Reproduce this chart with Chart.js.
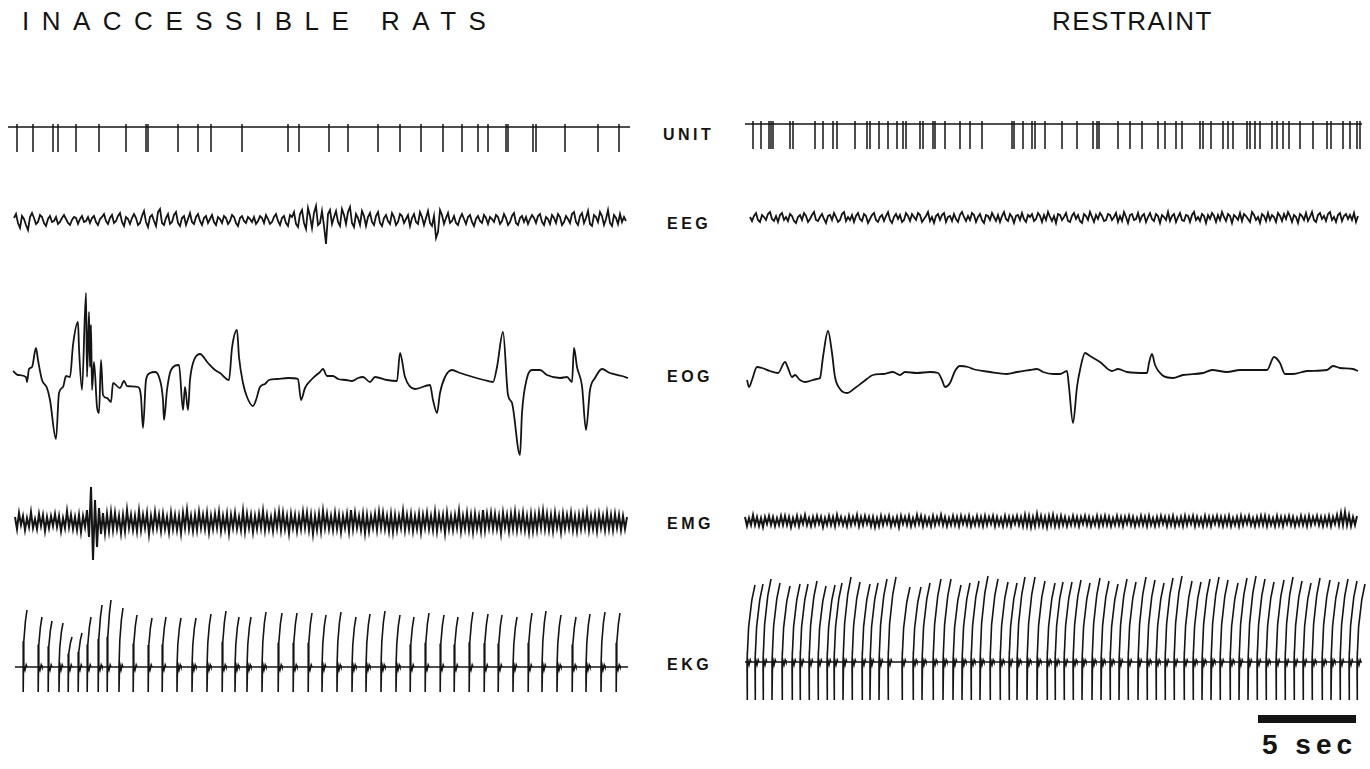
<!DOCTYPE html>
<html>
<head>
<meta charset="utf-8">
<script src="https://cdn.jsdelivr.net/npm/chart.js@4.4.1/dist/chart.umd.min.js"></script>
<style>
  body { margin: 0; background: #fff; }
  #page { position: relative; width: 1370px; height: 769px; overflow: hidden;
          font-family: "Liberation Sans", Arial, sans-serif; color: #141414; }
  canvas { position: absolute; }
  .title { position: absolute; top: 6px; font-size: 26px; white-space: nowrap; }
  .lab { position: absolute; left: 667px; font-weight: bold; font-size: 16px; letter-spacing: 3.5px;
         transform: translateY(-50%); }
  #bar { position: absolute; left: 1258px; top: 715px; width: 98px; height: 8px; background: #141414; }
  #sec { position: absolute; left: 1262px; top: 729px; font-size: 28px; font-weight: bold; letter-spacing: 5px; }
</style>
</head>
<body>
<div id="page">
  <div class="title" style="left:22px;letter-spacing:12.5px">INACCESSIBLE RATS</div>
  <div class="title" style="left:1052px;letter-spacing:1.5px">RESTRAINT</div>
  <div class="lab" style="top:135px;left:663px">UNIT</div>
  <div class="lab" style="top:224px">EEG</div>
  <div class="lab" style="top:377px">EOG</div>
  <div class="lab" style="top:524px">EMG</div>
  <div class="lab" style="top:665px">EKG</div>
  <div id="bar"></div>
  <div id="sec">5 sec</div>
</div>
<script>
/* ------------------------------
   Data (time in s, amplitudes in arbitrary gain units)
   ------------------------------ */
const X_MAX = 31.35;   // seconds shown per panel

// UNIT: spike times
const unitLeftSpikes = [0.45, 1.25, 2.25, 2.5, 3.4, 4.55, 5.9, 6.9, 7.0, 8.5, 9.5, 10.15, 11.7, 14.0, 14.55,
  16.05, 17.0, 18.5, 19.6, 20.65, 21.75, 22.7, 23.5, 24.0, 24.9, 25.0, 26.25, 26.4, 27.85, 29.5, 30.55];
const unitRightSpikes = [0.5, 0.9, 1.3, 1.4, 1.5, 2.35, 2.5, 3.6, 4.0, 4.5, 4.7, 5.6, 6.2, 6.35, 6.8, 7.25, 7.7,
  8.0, 8.15, 8.85, 9.0, 9.5, 9.6, 10.1, 10.85, 11.35, 11.95, 13.45, 13.55, 14.0, 14.45, 14.6, 15.1, 15.95,
  16.7, 17.5, 17.7, 17.8, 18.75, 19.35, 19.95, 20.75, 21.1, 21.65, 21.95, 22.85, 23.0, 23.4, 24.0, 24.25,
  24.5, 25.2, 25.35, 25.6, 25.85, 26.45, 26.7, 27.0, 27.3, 27.85, 28.5, 29.2, 29.4, 30.0, 30.35, 30.7, 30.85];

// EEG: samples every 0.1 s
const EEG_DT = 0.1;
const eegLeft = [
  2, 6, -3, -8, 4, 1, -5, -10, 3, 7, 2, -4, -2, 5, 3, -3, -6, 1, 4, -2,
  -1, 3, -4, -2, 2, 5, 1, -3, -5, 0, 3, 2, -4, 1, 4, -2, -1, 3, -3, 2,
  4, -2, -5, 1, 3, 6, -1, -4, 2, 5, -3, -1, 4, 7, -2, -6, 3, 1, -4, 2,
  6, 2, -5, -3, 4, 9, -2, -7, 3, 5, -1, -6, 8, 11, -3, -5, 2, 6, -4, -2,
  5, 8, -3, -6, 2, 4, -5, 1, 7, -2, -4, 3, 6, -1, -5, 2, 4, -3, 1, 5,
  -2, -5, 3, 1, -3, 4, 2, -4, -1, 5, 3, -3, -6, 2, 4, -1, -3, 3, 1, -2,
  3, -4, -1, 4, 2, -3, 5, 1, -4, -2, 3, 6, -1, -5, 2, 4, -3, -6, 5, 3,
  8, -4, -7, 6, 10, -3, -9, 12, 4, -8, 7, 14, -5, -3, 9, -6, -24, 6, 10, -4,
  3, 9, -2, -6, 11, 5, -4, 8, 13, -3, -7, 6, 2, -5, 9, 4, -6, 3, 7, -2,
  -5, 4, 8, -3, -6, 2, 5, -1, -4, 7, 3, -5, -2, 6, 4, -3, 1, 5, -6, 2,
  6, -2, -4, 8, 3, -5, 2, 9, -3, -6, 4, -18, -12, 10, 5, -4, 2, 7, -3, -1,
  4, -3, -5, 2, 6, 1, -4, 3, 5, -2, -6, 1, 4, -1, -3, 5, 2, -4, 3, 1,
  -2, 5, 3, -4, -1, 6, 2, -5, -2, 4, 7, -3, -5, 2, 4, -2, 3, -4, 1, 5,
  2, -3, 4, 6, -2, -5, 3, 1, -4, 5, 2, -3, 6, 3, -5, -2, 4, 1, -3, 6,
  8, -2, -5, 4, 7, -3, 2, 9, -4, -6, 5, 3, -2, 8, 4, -5, 1, 10, -3, -6,
  5, 2, -4, 6, -2, 3, -1];
const eegRight = [
  1, -3, 2, 5, -2, -4, 3, 1, -2, 4, 6, -1, -3, 2, -4, 3, 5, -2, 1, -3,
  4, 2, -3, -5, 1, 3, -2, 5, 2, -4, -1, 3, 6, -2, -3, 1, 4, -1, -5, 2,
  3, -2, 5, 1, -4, -2, 4, 6, -3, 1, -2, 3, -4, 2, 5, -1, -3, 4, 2, -5,
  -1, 3, 5, -2, -4, 1, 3, -3, 2, 6, -2, -5, 1, 4, -1, 3, -4, -2, 5, 2,
  -3, 4, 1, -2, 5, 3, -4, -1, 2, 6, -3, 1, -5, 2, 4, -2, 3, 5, -4, 1,
  2, -3, 4, -1, -4, 3, 6, 1, -3, 2, -2, 5, 3, -4, 1, 4, -2, -5, 3, 2,
  -2, 5, 1, -3, 3, -4, 2, 6, -1, -3, 4, 1, -5, 2, 3, -2, 5, -1, -4, 3,
  1, 4, -3, -1, 5, 2, -4, 3, -2, 6, 1, -3, 2, -5, 4, 3, -2, 1, 5, -3,
  -4, 2, 5, -1, 3, -3, -5, 4, 2, -2, 6, 1, -4, 3, -1, 5, 2, -3, -2, 4,
  3, -2, 1, 5, -4, 2, -3, 6, 1, -5, 3, 4, -2, -1, 5, -3, 2, 4, -4, 1,
  5, -1, -3, 4, 2, -5, 3, 1, -2, 6, -3, 2, 4, -4, 1, 5, -2, -3, 3, 2,
  -4, 3, 6, -2, 1, -3, 4, 2, -5, 3, -1, 5, 2, -4, 3, -2, 6, 1, -3, 4,
  2, -5, 3, 1, -2, 5, -3, 4, 2, -1, -4, 6, 3, -2, 1, -5, 4, 2, -3, 5,
  -2, 3, 1, -4, 5, 2, -3, 4, -1, 6, 2, -4, 3, 1, -5, 4, 2, -2, 5, -3,
  1, 6, -2, -4, 3, 5, -1, 2, -3, 4, 6, -2, 1, -4, 3, 5, -3, 2, 4, -1,
  3, -2, 5, -4, 2];

// EOG: [time, amplitude]
const eogLeft = [[0.25, 60], [0.5, 20], [0.9, 0], [0.95, -50], [1.05, 80], [1.2, 100], [1.4, 290], [1.5, 170],
  [1.7, -30], [1.95, -110], [2.1, -230], [2.4, -620], [2.55, -160], [2.75, -100], [2.9, 10], [3.1, 0],
  [3.25, 320], [3.5, 550], [3.55, 290], [3.7, -130], [3.9, 840], [3.95, 0], [4.05, 650], [4.1, 100],
  [4.15, 520], [4.2, -130], [4.3, 150], [4.45, -300], [4.55, -360], [4.65, 170], [4.75, -180], [4.95, -210],
  [5.15, -250], [5.25, -60], [5.6, -110], [5.8, -40], [5.95, -90], [6.5, -100], [6.65, -200], [6.75, -510],
  [6.9, -30], [7.1, 40], [7.35, 50], [7.55, 0], [7.75, -230], [7.8, -430], [7.95, -130], [8.15, 70],
  [8.55, 120], [8.75, -330], [8.85, -100], [9.0, -330], [9.1, -30], [9.25, 140], [9.6, 230], [10.0, 140],
  [10.35, 70], [10.6, 40], [11.05, -30], [11.2, 290], [11.45, 470], [11.55, 200], [11.75, -60], [11.95, -200],
  [12.25, -290], [12.4, -230], [12.6, -100], [12.85, -70], [13.05, -30], [13.45, -20], [14.0, -10], [14.5, -20],
  [14.65, -230], [14.85, -110], [15.2, -20], [15.6, 50], [15.75, 80], [15.95, 10], [16.25, 10], [16.5, -20],
  [16.9, -30], [17.2, -40], [17.5, -10], [17.75, 0], [18.1, -50], [18.35, 0], [18.95, -30], [19.45, -40],
  [19.6, 240], [19.85, 0], [20.35, -120], [21.1, -80], [21.25, -230], [21.45, -360], [21.6, -160], [21.85, 0],
  [22.2, 70], [22.6, 40], [23.25, 0], [23.8, -30], [24.25, -50], [24.45, 100], [24.75, 450], [25.0, -180],
  [25.2, -260], [25.6, -780], [25.7, -360], [25.95, -10], [26.2, 70], [26.6, 70], [26.95, 20], [27.6, -10],
  [27.95, 0], [28.2, -50], [28.3, 290], [28.45, 100], [28.7, -90], [28.9, -530], [29.1, -130], [29.35, -10],
  [29.7, 80], [30.1, 40], [30.7, 10], [31.0, -10]];
const eogRight = [[0.2, -80], [0.3, -150], [0.45, -80], [0.7, 50], [0.95, 40], [1.35, 10], [1.75, -10], [2.1, 100],
  [2.25, 40], [2.45, -50], [2.6, -30], [2.85, -80], [3.1, -100], [3.7, -70], [3.85, -60], [4.0, 150],
  [4.25, 410], [4.45, 190], [4.6, -50], [4.85, -170], [5.2, -210], [5.6, -160], [6.0, -100], [6.5, -30],
  [7.0, -20], [7.5, 0], [7.85, -30], [8.1, 0], [8.7, -10], [9.35, 0], [9.75, -10], [9.95, -80],
  [10.1, -150], [10.35, -110], [10.6, 10], [10.85, 60], [11.25, 50], [11.5, 30], [12.35, 0], [13.2, -20],
  [13.7, 0], [14.35, 20], [14.7, 30], [15.0, 0], [15.5, -20], [15.85, -20], [16.2, 10], [16.3, -150],
  [16.5, -510], [16.7, -150], [16.85, 20], [17.1, 190], [17.35, 160], [17.85, 100], [18.45, 10], [18.75, 30],
  [19.2, 0], [20.2, -10], [20.3, 90], [20.45, 180], [20.6, 70], [20.95, -30], [21.5, -60], [22.0, -30],
  [23.0, -10], [23.45, 20], [24.2, 0], [24.85, 20], [25.7, 20], [26.2, 20], [26.55, 150], [26.85, 90],
  [27.1, -20], [27.5, -20], [28.2, 10], [29.2, 20], [29.5, 60], [29.85, 40], [30.5, 30], [30.75, 10]];

// EMG: samples every 0.1 s
const EMG_DT = 0.1;
const emgLeft = [
  5, -7, 9, -3, 6, -8, 4, -5, 10, -6, 3, -7, 8, -4, 7, -9, 5, -6, 6, -4,
  8, -5, 6, -9, 4, -6, 11, -5, 7, -7, 5, -8, 7, -10, 6, -5, 12, -15, 35, -38,
  22, -25, 14, -12, 9, -11, 8, -9, 10, -8, 9, -7, 6, -11, 7, -9, 12, -6, 7, -8,
  6, -9, 11, -8, 7, -6, 9, -12, 6, -7, 10, -6, 7, -9, 8, -7, 5, -10, 9, -7,
  7, -8, 6, -11, 9, -6, 12, -7, 6, -9, 7, -8, 10, -6, 7, -7, 9, -10, 6, -7,
  8, -6, 10, -9, 6, -7, 8, -11, 7, -6, 9, -7, 5, -8, 11, -9, 8, -6, 7, -10,
  6, -7, 8, -6, 11, -8, 7, -7, 5, -9, 8, -6, 10, -8, 9, -7, 6, -11, 8, -6,
  7, -9, 6, -7, 10, -6, 9, -8, 7, -12, 6, -8, 8, -9, 11, -6, 8, -7, 6, -8,
  9, -7, 7, -10, 6, -6, 8, -9, 12, -7, 9, -6, 6, -8, 8, -11, 7, -9, 6, -6,
  8, -8, 10, -6, 9, -7, 6, -9, 8, -10, 7, -8, 6, -6, 11, -8, 7, -7, 8, -9,
  6, -7, 8, -10, 7, -6, 9, -7, 6, -8, 10, -9, 7, -6, 7, -11, 9, -7, 6, -8,
  7, -6, 11, -9, 6, -7, 9, -8, 7, -10, 8, -7, 6, -9, 12, -8, 8, -6, 9, -7,
  8, -7, 6, -11, 9, -6, 7, -9, 8, -7, 10, -8, 7, -7, 9, -8, 6, -10, 8, -9,
  7, -8, 9, -6, 11, -7, 8, -8, 7, -9, 9, -6, 6, -10, 8, -7, 7, -6, 9, -8,
  6, -9, 7, -7, 8, -6, 10, -8, 6, -7, 7, -9, 8, -6, 6, -8, 9, -7, 7, -8,
  8, -6, 7, -8, 6, -7, 5];
const emgRight = [
  4, -5, 3, -4, 6, -4, 4, -5, 3, -6, 4, -3, 5, -4, 4, -5, 3, -4, 5, -4,
  5, -4, 4, -6, 3, -4, 5, -5, 4, -3, 6, -4, 3, -5, 4, -4, 5, -3, 4, -6,
  3, -4, 5, -4, 4, -5, 6, -3, 4, -4, 3, -5, 5, -4, 4, -3, 6, -5, 4, -4,
  5, -3, 4, -5, 4, -6, 3, -5, 5, -4, 4, -3, 5, -5, 3, -4, 4, -6, 5, -3,
  4, -4, 5, -5, 3, -4, 6, -3, 5, -5, 4, -4, 3, -5, 5, -4, 4, -3, 6, -4,
  4, -5, 3, -4, 5, -4, 4, -5, 5, -3, 4, -4, 5, -5, 3, -4, 5, -4, 4, -5,
  5, -4, 4, -3, 5, -5, 4, -4, 3, -5, 5, -4, 4, -5, 4, -3, 5, -4, 4, -5,
  6, -5, 5, -6, 4, -5, 7, -4, 5, -5, 4, -6, 5, -4, 6, -5, 4, -5, 5, -4,
  4, -5, 3, -4, 5, -4, 4, -5, 4, -3, 5, -4, 4, -5, 3, -4, 5, -5, 4, -4,
  5, -4, 4, -5, 3, -4, 5, -4, 4, -5, 4, -3, 5, -4, 4, -5, 3, -4, 5, -4,
  4, -5, 5, -4, 3, -5, 4, -4, 5, -3, 4, -5, 4, -4, 5, -5, 3, -4, 4, -5,
  5, -4, 4, -3, 5, -5, 4, -4, 3, -5, 5, -4, 4, -5, 4, -3, 5, -4, 4, -5,
  4, -4, 5, -5, 3, -4, 4, -5, 5, -4, 4, -3, 5, -4, 3, -5, 4, -4, 5, -4,
  5, -5, 4, -4, 3, -5, 5, -4, 4, -5, 4, -3, 5, -4, 4, -5, 3, -4, 5, -4,
  4, -5, 5, -4, 4, -3, 5, -4, 4, -5, 4, -4, 5, -5, 4, -3, 6, -4, 8, -4,
  9, -4, 6, -5, 4, -4, 5];

// EKG: beat times and R-wave heights
const ekgLeftBeats = [0.75, 1.5, 2.0, 2.55, 3.0, 3.5, 3.95, 4.5, 4.95, 5.55,
  6.25, 7.0, 7.7, 8.45, 9.2, 9.95, 10.7, 11.35, 11.95, 12.7, 13.5, 14.25, 15.0,
  15.7, 16.45, 17.2, 17.9, 18.65, 19.4, 20.1, 20.85, 21.6, 22.3, 23.05, 23.8, 24.5,
  25.25, 26.0, 26.7, 27.45, 28.2, 28.9, 29.65, 30.4];
const ekgLeftHeights = [57, 50, 46, 44, 30, 34, 50, 62, 67, 59, 52, 49, 50, 49, 49, 53, 56, 50, 50, 55,
  54, 54, 54, 52, 55, 50, 53, 56, 52, 50, 54, 52, 50, 55, 53, 52, 50, 54, 56, 52, 50, 53, 55, 54];
const ekgRightBeats = [0.2, 0.6, 1.0, 1.45, 1.95, 2.45, 2.85, 3.3, 3.75, 4.2,
  4.55, 5.0, 5.45, 5.95, 6.35, 6.8, 7.25, 7.95, 8.5, 8.95, 9.5, 10.0, 10.5, 10.95,
  11.4, 11.85, 12.35, 12.85, 13.3, 13.7, 14.2, 14.7, 15.2, 15.6, 16.05, 16.5, 16.95,
  17.45, 17.9, 18.35, 18.8, 19.25, 19.75, 20.2, 20.65, 21.1, 21.55, 22.05, 22.5, 22.95,
  23.4, 23.85, 24.35, 24.8, 25.25, 25.7, 26.15, 26.65, 27.1, 27.55, 28.0, 28.45, 28.95,
  29.4, 29.85, 30.3, 30.7];
const ekgRightHeights = [77, 78, 83, 79, 76, 78, 78, 81, 76, 77, 79, 85, 80, 78, 79, 83, 85, 75, 75, 79,
  83, 83, 77, 79, 81, 86, 83, 80, 79, 85, 85, 81, 79, 80, 80, 82, 79, 84, 81, 78, 83, 80, 85, 82,
  79, 84, 86, 81, 80, 83, 85, 82, 79, 84, 86, 83, 80, 82, 85, 81, 79, 84, 82, 80, 83, 81, 78];

/* ------------------------------
   Point builders
   ------------------------------ */
function unitPoints(spikes, t0, t1) {
  const pts = [{ x: t0, y: 0 }];
  spikes.forEach(t => pts.push({ x: t, y: 0 }, { x: t, y: 3 }, { x: t, y: -25 }, { x: t, y: 0 }));
  pts.push({ x: t1, y: 0 });
  return pts;
}
const sampled = (vals, start, dt) => vals.map((v, i) => ({ x: start + i * dt, y: v }));
const pairs = (arr) => arr.map(([x, y]) => ({ x, y }));

function ekgPoints(beats, heights, depth, lean, t0, t1) {
  const pts = [{ x: t0, y: 0 }];
  beats.forEach((t, i) => {
    const h = heights[i];
    pts.push(
      { x: t, y: 0 }, { x: t + lean * 0.2, y: h * 0.45 }, { x: t + lean * 0.6, y: h * 0.8 }, { x: t + lean, y: h },
      { x: t + lean * 0.6, y: h * 0.8 }, { x: t + lean * 0.2, y: h * 0.45 }, { x: t, y: 0 },
      { x: t, y: -depth }, { x: t + 0.03, y: 4 }, { x: t + 0.1, y: -3 }, { x: t + 0.16, y: 2 }, { x: t + 0.2, y: 0 });
  });
  pts.push({ x: t1, y: 0 });
  return pts;
}

/* ------------------------------
   One chart per trace
   ------------------------------ */
const page = document.getElementById("page");
function trace(left, top, width, height, yMin, yMax, pts, lw, smooth) {
  const c = document.createElement("canvas");
  c.width = width; c.height = height;
  c.style.left = left + "px"; c.style.top = top + "px";
  page.appendChild(c);
  return new Chart(c, {
    type: "line",
    data: { datasets: [{
      data: pts, borderColor: "#141414", borderWidth: lw, pointRadius: 0, fill: false,
      tension: 0, cubicInterpolationMode: smooth ? "monotone" : "default"
    }] },
    options: {
      responsive: false, animation: false, events: [],
      layout: { padding: 0 },
      plugins: { legend: { display: false }, tooltip: { enabled: false } },
      scales: {
        x: { type: "linear", min: 0, max: X_MAX, display: false },
        y: { min: yMin, max: yMax, display: false }
      }
    }
  });
}

const L = 8, R = 743, W = 627;
// UNIT
trace(L, 110, W, 50, -33, 17, unitPoints(unitLeftSpikes, 0, 31.1), 1.5);
trace(R, 110, W, 50, -36, 14, unitPoints(unitRightSpikes, 0.1, 30.95), 1.5);
// EEG
trace(L, 195, W, 60, -35, 25, sampled(eegLeft, 0.3, EEG_DT), 1.8);
trace(R, 195, W, 50, -27, 23, sampled(eegRight, 0.35, EEG_DT), 1.8);
// EOG
trace(L, 280, W, 190, -930, 970, pairs(eogLeft), 1.8, true);
trace(R, 300, W, 140, -680, 720, pairs(eogRight), 1.8, true);
// EMG
trace(L, 480, W, 85, -43, 42, sampled(emgLeft, 0.35, EMG_DT), 2);
trace(R, 500, W, 40, -19, 21, sampled(emgRight, 0.1, EMG_DT), 2);
// EKG
trace(L, 590, W, 110, -33, 77, ekgPoints(ekgLeftBeats, ekgLeftHeights, 25, 0.2, 0.35, 31.0), 1.6);
trace(R, 565, W, 140, -43, 97, ekgPoints(ekgRightBeats, ekgRightHeights, 38, 0.4, 0.1, 30.8), 1.6);
</script>
</body>
</html>
